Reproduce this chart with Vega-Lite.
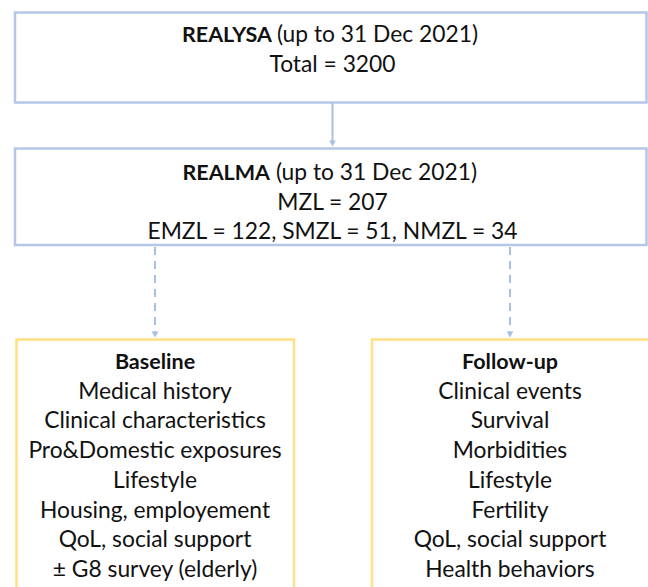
{
  "$schema": "https://vega.github.io/schema/vega-lite/v6.json",
  "width": 648,
  "height": 587,
  "padding": 0,
  "autosize": {"type": "none"},
  "background": "white",
  "config": {"view": {"stroke": null}},
  "datasets": {
    "boxes": [
      {"box": "REALYSA", "kind": "blue", "x1": 15, "x2": 646.5, "y1": 12.5, "y2": 102.5},
      {"box": "REALMA", "kind": "blue", "x1": 15, "x2": 646.5, "y1": 148.5, "y2": 245},
      {"box": "Baseline", "kind": "yellow", "x1": 16.5, "x2": 294, "y1": 339.5, "y2": 600},
      {"box": "Follow-up", "kind": "yellow", "x1": 372, "x2": 660, "y1": 339.5, "y2": 600}
    ],
    "arrows": [
      {"link": "REALYSA-REALMA", "style": "solid", "x": 332.5, "y1": 103, "y2": 142},
      {"link": "REALMA-Baseline", "style": "dashed", "x": 155, "y1": 247, "y2": 333},
      {"link": "REALMA-Follow-up", "style": "dashed", "x": 510, "y1": 247, "y2": 333}
    ],
    "heads": [
      {"link": "REALYSA-REALMA", "x": 332.5, "y": 143.5},
      {"link": "REALMA-Baseline", "x": 155, "y": 334.5},
      {"link": "REALMA-Follow-up", "x": 510, "y": 334.5}
    ],
    "titles": [
      {"bold": "REALYSA", "rest": "(up to 31 Dec 2021)", "xb": 272, "xr": 277, "y": 42},
      {"bold": "REALMA", "rest": "(up to 31 Dec 2021)", "xb": 270, "xr": 276, "y": 180}
    ],
    "lines": [
      {"label": "Total = 3200", "x": 332.5, "y": 71.5, "weight": "normal"},
      {"label": "MZL = 207", "x": 332.5, "y": 209.5, "weight": "normal"},
      {"label": "EMZL = 122, SMZL = 51, NMZL = 34", "x": 332.5, "y": 239, "weight": "normal"},
      {"label": "Baseline", "x": 155, "y": 369, "weight": "bold"},
      {"label": "Medical history", "x": 155, "y": 398.7, "weight": "normal"},
      {"label": "Clinical characteristics", "x": 155, "y": 428.4, "weight": "normal"},
      {"label": "Pro&Domestic exposures", "x": 155, "y": 458.1, "weight": "normal"},
      {"label": "Lifestyle", "x": 155, "y": 487.8, "weight": "normal"},
      {"label": "Housing, employement", "x": 155, "y": 517.5, "weight": "normal"},
      {"label": "QoL, social support", "x": 155, "y": 547.2, "weight": "normal"},
      {"label": "± G8 survey (elderly)", "x": 155, "y": 576.9, "weight": "normal"},
      {"label": "Follow-up", "x": 510, "y": 369, "weight": "bold"},
      {"label": "Clinical events", "x": 510, "y": 398.7, "weight": "normal"},
      {"label": "Survival", "x": 510, "y": 428.4, "weight": "normal"},
      {"label": "Morbidities", "x": 510, "y": 458.1, "weight": "normal"},
      {"label": "Lifestyle", "x": 510, "y": 487.8, "weight": "normal"},
      {"label": "Fertility", "x": 510, "y": 517.5, "weight": "normal"},
      {"label": "QoL, social support", "x": 510, "y": 547.2, "weight": "normal"},
      {"label": "Health behaviors", "x": 510, "y": 576.9, "weight": "normal"}
    ]
  },
  "layer": [
    {
      "data": {"name": "boxes"},
      "mark": {"type": "rect", "fill": "white", "strokeWidth": 2.5},
      "encoding": {
        "x": {"field": "x1", "type": "quantitative", "scale": {"domain": [0, 648], "nice": false, "zero": false}, "axis": null},
        "x2": {"field": "x2"},
        "y": {"field": "y1", "type": "quantitative", "scale": {"domain": [0, 587], "reverse": true, "nice": false, "zero": false}, "axis": null},
        "y2": {"field": "y2"},
        "stroke": {"field": "kind", "type": "nominal", "scale": {"domain": ["blue", "yellow"], "range": ["#b4c7e7", "#ffe084"]}, "legend": null}
      }
    },
    {
      "data": {"name": "arrows"},
      "mark": {"type": "rule", "strokeWidth": 2, "color": "#a9bfe4"},
      "encoding": {
        "x": {"field": "x", "type": "quantitative"},
        "y": {"field": "y1", "type": "quantitative"},
        "y2": {"field": "y2"},
        "strokeDash": {"field": "style", "type": "nominal", "scale": {"domain": ["solid", "dashed"], "range": [[1, 0], [8, 6]]}, "legend": null}
      }
    },
    {
      "data": {"name": "heads"},
      "mark": {"type": "point", "shape": "triangle-down", "filled": true, "size": 45, "color": "#a9bfe4", "opacity": 1},
      "encoding": {
        "x": {"field": "x", "type": "quantitative"},
        "y": {"field": "y", "type": "quantitative"}
      }
    },
    {
      "data": {"name": "titles"},
      "mark": {"type": "text", "font": "Lato", "fontSize": 21.5, "fontWeight": "bold", "align": "right", "baseline": "alphabetic", "color": "#111111"},
      "encoding": {
        "x": {"field": "xb", "type": "quantitative"},
        "y": {"field": "y", "type": "quantitative"},
        "text": {"field": "bold"}
      }
    },
    {
      "data": {"name": "titles"},
      "mark": {"type": "text", "font": "Lato", "fontSize": 22.8, "align": "left", "baseline": "alphabetic", "color": "#111111"},
      "encoding": {
        "x": {"field": "xr", "type": "quantitative"},
        "y": {"field": "y", "type": "quantitative"},
        "text": {"field": "rest"}
      }
    },
    {
      "data": {"name": "lines"},
      "transform": [{"filter": "datum.weight === 'normal'"}],
      "mark": {"type": "text", "font": "Lato", "fontSize": 22.8, "align": "center", "baseline": "alphabetic", "color": "#111111"},
      "encoding": {
        "x": {"field": "x", "type": "quantitative"},
        "y": {"field": "y", "type": "quantitative"},
        "text": {"field": "label"}
      }
    },
    {
      "data": {"name": "lines"},
      "transform": [{"filter": "datum.weight === 'bold'"}],
      "mark": {"type": "text", "font": "Lato", "fontSize": 21.5, "fontWeight": "bold", "align": "center", "baseline": "alphabetic", "color": "#111111"},
      "encoding": {
        "x": {"field": "x", "type": "quantitative"},
        "y": {"field": "y", "type": "quantitative"},
        "text": {"field": "label"}
      }
    }
  ]
}
